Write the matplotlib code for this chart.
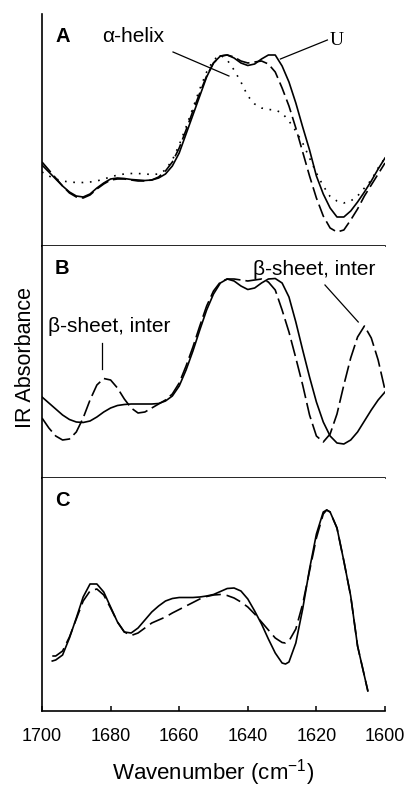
import matplotlib
matplotlib.use("Agg")
import matplotlib.pyplot as plt

plt.rcParams["font.family"] = ["Liberation Sans", "DejaVu Sans"]
plt.rcParams["mathtext.fontset"] = "custom"
plt.rcParams["mathtext.rm"] = "Liberation Sans"

# wavenumber grid where the spectra were read (cm-1)
wn_ab = list(range(1700, 1598, -2))

# panel A: U (solid), second spectrum (dashed), alpha-helix (dotted)
a_u = [81, 74, 67, 60, 54, 50, 49, 52, 58, 63,
       67, 68, 67.5, 66.5, 66, 65.5, 66, 68, 72, 80,
       93, 112, 131, 150, 169, 183, 190, 191, 188, 183,
       180.5, 182, 187, 191, 191, 180, 164, 143, 119, 96,
       70, 52, 38, 29, 29, 35, 44, 54, 65, 77,
       88]
a_dash = [84, 76, 68, 60, 53, 49, 48, 51, 57, 62,
          66, 67, 67, 66, 65, 65, 66, 69, 75, 84,
          98, 116, 135, 153, 170, 183, 190, 191, 189, 185,
          183, 184, 185, 182, 174, 158, 140, 118, 94, 70,
          48, 30, 18, 14, 16, 26, 37, 50, 61, 72,
          83]
a_helix = [74, 70, 67, 65, 64, 63.5, 63.5, 64, 65, 67,
           69, 71, 72, 72.5, 72.5, 72, 71.5, 72, 76, 86,
           101, 119, 138, 157, 174, 186, 191, 186, 176, 164,
           150, 142, 138, 136.5, 136, 133, 125, 115, 103, 88,
           73, 60, 49.5, 45, 43, 45, 50, 58, 66, 78,
           88]

# panel B
b_solid = [81, 75, 69, 63, 58.5, 56, 55.5, 57, 61, 66,
           70, 72.5, 73.5, 74, 74, 74, 74, 74.5, 77, 82,
           92, 108, 127, 148, 168, 184, 195, 199, 197, 192,
           188.5, 190, 195, 199, 199.5, 195, 181, 156, 128, 101,
           76, 56, 42, 35, 34, 38, 46, 57, 68, 78,
           86]
b_dash = [60, 50, 42, 38, 39, 46, 60, 78, 93, 99.5,
          98, 90, 79, 70, 65, 66, 70, 74, 78, 84,
          95, 112, 131, 152, 172, 187, 196, 199, 199, 198,
          197, 198, 199, 196, 188, 168, 146, 120, 93, 63,
          42, 36, 44, 64, 93, 120, 141, 152, 140, 118,
          88]

# panel C
wn_c = [1697, 1696, 1694, 1692, 1690, 1688, 1686, 1684, 1682, 1680,
        1678, 1676, 1674, 1672, 1670, 1668, 1666, 1664, 1662, 1660,
        1658, 1656, 1654, 1652, 1650, 1648, 1646, 1644, 1642, 1640,
        1638, 1636, 1634, 1632, 1630, 1629, 1628, 1626, 1624, 1622,
        1620, 1618, 1617, 1616, 1614, 1612, 1610, 1608, 1606, 1605]
c_solid = [50, 51, 56, 73, 93, 114, 127, 127, 119, 104,
           89, 79, 78, 83, 91, 99, 105, 110, 112.5, 113.5,
           113.5, 113.5, 114, 115, 116.5, 119.5, 122.5, 123, 120, 112,
           100, 87, 72, 58, 48, 47, 49, 68, 102, 142,
           177, 199, 201, 199, 183, 150, 115, 65, 35, 20]
c_dash = [55, 55, 60, 74, 92, 110, 120, 122, 116, 103,
          89, 79, 75.5, 78, 83, 88, 91, 94, 98, 101.5,
          105, 108.5, 112, 114.5, 116, 116.5, 115.5, 113, 109, 104,
          97, 89, 81, 73, 68.5, 68, 70, 82, 107, 140,
          173, 197, 201, 199, 183, 150, 115, 65, 35, 20]

xticks = [1700, 1680, 1660, 1640, 1620, 1600]

W, H = 407, 789
fig = plt.figure(figsize=(W / 100, H / 100), dpi=100)


def panel(top_px, bottom_px):
    ax = fig.add_axes([42 / W, 1 - bottom_px / H, 343 / W, (bottom_px - top_px) / H])
    ax.set_xlim(1700, 1600)
    ax.set_ylim(0, bottom_px - top_px)
    for s in ("top", "right"):
        ax.spines[s].set_visible(False)
    for s in ("left", "bottom"):
        ax.spines[s].set_linewidth(1.2)
    ax.set_yticks([])
    return ax


lw = 1.2
axA = panel(14, 246)
axB = panel(246, 478)
axC = panel(478, 711)

axA.plot(wn_ab, a_u, color="black", lw=lw)
axA.plot(wn_ab, a_dash, color="black", lw=lw, dashes=(8, 3))
axA.plot(wn_ab, a_helix, color="black", lw=lw, dashes=(1, 4))

axB.plot(wn_ab, b_solid, color="black", lw=lw)
axB.plot(wn_ab, b_dash, color="black", lw=lw, dashes=(10, 3))

axC.plot(wn_c, c_solid, color="black", lw=lw)
axC.plot(wn_c, c_dash, color="black", lw=lw, dashes=(9, 3.5))

for ax in (axA, axB):
    ax.set_xticks([])

axC.set_xticks(xticks)
axC.tick_params(axis="x", direction="in", length=3.5, width=1.1, pad=12, labelsize=13)
axC.set_xlabel("Wavenumber (cm$^{-1}$)", fontsize=16, labelpad=9)

fig.text(26 / W, 1 - 358 / H, "IR Absorbance", rotation=90, fontsize=15.5,
         ha="center", va="center")

# panel letters
for ax, lab in ((axA, "A"), (axB, "B"), (axC, "C")):
    ax.text(0.038, 0.945, lab, transform=ax.transAxes, fontsize=14.5,
            fontweight="bold", ha="left", va="top")

# annotations
axA.text(1682.5, 204, "\u03b1-helix", fontsize=15, ha="left", va="baseline")
axA.plot([1661.8, 1645.5], [194, 170], color="black", lw=0.9)
axA.text(1616.2, 201, "U", fontsize=14, family="Liberation Serif",
         ha="left", va="baseline")
axA.plot([1616.8, 1630.5], [206, 187], color="black", lw=0.9)

axB.text(1638.5, 203, "\u03b2-sheet, inter", fontsize=15, ha="left", va="baseline")
axB.plot([1617.5, 1607.8], [193, 156], color="black", lw=0.9)
axB.text(1698.3, 146, "\u03b2-sheet, inter", fontsize=15, ha="left", va="baseline")
axB.plot([1682.6, 1682.6], [135, 109], color="black", lw=0.9)

fig.savefig("out.png", dpi=100)
